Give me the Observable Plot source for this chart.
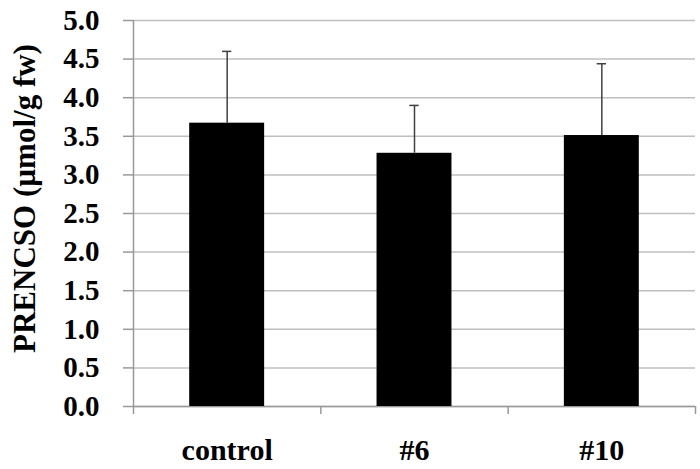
<!DOCTYPE html>
<html>
<head>
<meta charset="utf-8">
<script src="https://cdn.jsdelivr.net/npm/d3@7"></script>
<script src="https://cdn.jsdelivr.net/npm/@observablehq/plot@0.6"></script>
<style>
  html, body { margin: 0; padding: 0; background: #fff; }
  #chart svg { display: block; }
</style>
</head>
<body>
<div id="chart"></div>
<script>
const categories = ["control", "#6", "#10"];
const means = [3.67, 3.28, 3.51];
const sds = [0.93, 0.62, 0.93];
const yTicks = [0, 0.5, 1, 1.5, 2, 2.5, 3, 3.5, 4, 4.5, 5];
const yLabel = "PRENCSO (µmol/g fw)";

const data = categories.map((c, i) => ({cat: c, i, mean: means[i], top: means[i] + sds[i]}));

const font = "'Liberation Serif', 'Times New Roman', serif";

const chart = Plot.plot({
  width: 700,
  height: 469,
  marginLeft: 133,
  marginRight: 5,
  marginTop: 20,
  marginBottom: 63,
  style: {fontFamily: font, fontSize: "26px", fontWeight: "bold", color: "#000", background: "#fff"},
  x: {domain: [0, categories.length]},
  y: {domain: [0, 5]},
  marks: [
    Plot.gridY(yTicks, {stroke: "#bfbfbf", strokeOpacity: 1, strokeWidth: 1.5}),
    Plot.axisY(yTicks, {
      tickSize: 10, tickFormat: () => "", stroke: "#999", strokeWidth: 1.5, label: null
    }),
    Plot.text(yTicks, {
      y: d => d, frameAnchor: "left", dx: -34, textAnchor: "end", lineAnchor: "middle",
      text: d => d3.format(".1f")(d), fontSize: 29, fontWeight: "bold", fill: "#000"
    }),
    Plot.text([yLabel], {
      frameAnchor: "left", rotate: -90, dx: -108, dy: -15, textAnchor: "middle",
      fontSize: 31, fontWeight: "bold", fill: "#000"
    }),
    Plot.axisX(d3.range(categories.length + 1), {tickSize: 8, tickFormat: () => "", stroke: "#999", strokeWidth: 1.5, label: null}),
    Plot.text(data, {
      x: d => d.i + 0.5, text: "cat", frameAnchor: "bottom", dy: 44, lineAnchor: "middle",
      fontSize: 30, fontWeight: "bold", fill: "#000"
    }),
    Plot.ruleY([0], {stroke: "#999", strokeWidth: 1.5}),
    Plot.ruleX([0], {stroke: "#999", strokeWidth: 1.5}),
    Plot.rectY(data, {x1: d => d.i + 0.3, x2: d => d.i + 0.7, y1: 0, y2: "mean", fill: "#000"}),
    Plot.ruleX(data, {x: d => d.i + 0.5, y1: "mean", y2: "top", stroke: "#404040", strokeWidth: 1.5}),
    Plot.ruleY(data, {y: "top", x1: d => d.i + 0.475, x2: d => d.i + 0.525, stroke: "#404040", strokeWidth: 1.5})
  ]
});

document.getElementById("chart").appendChild(chart);
</script>
</body>
</html>
